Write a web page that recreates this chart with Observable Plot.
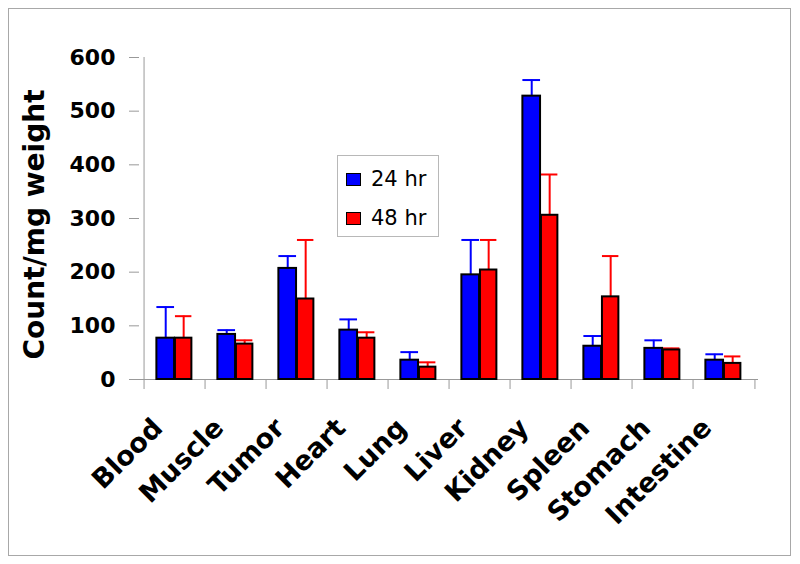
<!DOCTYPE html>
<html>
<head>
<meta charset="utf-8">
<script src="https://cdn.jsdelivr.net/npm/d3@7"></script>
<script src="https://cdn.jsdelivr.net/npm/@observablehq/plot@0.6"></script>
<style>
  html, body { margin: 0; padding: 0; background: #fff; }
  #wrap { position: relative; width: 800px; height: 564px; }
  #border { position: absolute; left: 8px; top: 8px; width: 783px; height: 548px; border: 1px solid #a8a8a8; box-sizing: border-box; }
  #chart { position: absolute; left: 0; top: 0; }
  #legend { position: absolute; left: 337px; top: 155px; width: 102px; height: 82px; border: 1px solid #b8b8b8; box-sizing: border-box; background: #fff;
            font-family: "DejaVu Sans", sans-serif; font-size: 21px; color: #000; }
  .item { position: absolute; left: 8px; display: flex; align-items: center; }
  .sw { width: 15px; height: 13px; border: 1px solid #000; box-sizing: border-box; margin-right: 10px; }
</style>
</head>
<body>
<div id="wrap">
  <div id="border"></div>
  <div id="chart"></div>
  <div id="legend"></div>
</div>
<script>
const organs = ["Blood", "Muscle", "Tumor", "Heart", "Lung", "Liver", "Kidney", "Spleen", "Stomach", "Intestine"];
const series = ["24 hr", "48 hr"];
const colors = ["#0000ff", "#ff0000"];
const mean24 = [77, 84, 207, 92, 36, 195, 528, 62, 58, 36];
const sd24   = [58, 8, 23, 20, 15, 65, 30, 19, 15, 11];
const mean48 = [77, 66, 150, 77, 23, 204, 306, 154, 55, 30];
const sd48   = [41, 7, 110, 11, 9, 56, 76, 76, 3, 13];
const yTicks = [0, 100, 200, 300, 400, 500, 600];
const yTitle = "Count/mg weight";

const width = 800, height = 564;
const mL = 139, mR = 42, mT = 57, mB = 185;
const step = (width - mL - mR) / organs.length;

const d24 = organs.map((o, i) => ({organ: o, v: mean24[i], top: mean24[i] + sd24[i]}));
const d48 = organs.map((o, i) => ({organ: o, v: mean48[i], top: mean48[i] + sd48[i]}));

// bar positions within each category band (fractions of the band)
const b24 = {insetLeft: 0.2 * step, insetRight: 0.5 * step};
const b48 = {insetLeft: 0.5 * step, insetRight: 0.22 * step};
const c24 = (0.35 - 0.5) * step;
const c48 = (0.64 - 0.5) * step;

const axisGray = "#999";

const plot = Plot.plot({
  width, height,
  marginLeft: mL, marginRight: mR, marginTop: mT, marginBottom: mB,
  style: {fontFamily: "DejaVu Sans, sans-serif", fontWeight: "bold", color: "#000", background: "transparent"},
  x: {type: "band", domain: organs, padding: 0},
  y: {domain: [0, 600]},
  marks: [
    // axes lines
    Plot.ruleY([0], {stroke: axisGray, strokeWidth: 1}),
    Plot.ruleX([organs[0]], {y1: 0, y2: 600, dx: -step / 2, stroke: axisGray}),
    // category boundary ticks
    Plot.ruleX(organs, {x: d => d, y1: 0, y2: 0, insetBottom: -10, dx: -step / 2, stroke: axisGray}),
    Plot.ruleX([organs[organs.length - 1]], {y1: 0, y2: 0, insetBottom: -10, dx: step / 2, stroke: axisGray}),
    Plot.axisY({ticks: yTicks, tickSize: 10, tickPadding: 14, fontSize: 22, stroke: axisGray, label: null}),
    Plot.text([yTitle], {text: d => d, frameAnchor: "left", textAnchor: "middle", rotate: -90, dx: -104, dy: 6, fontSize: 28, fontWeight: "bold"}),
    Plot.axisX({tickSize: 0, tickPadding: 44, tickRotate: -45, fontSize: 27, dx: -17, label: null}),
    // error bars
    Plot.ruleX(d24, {x: "organ", y1: "v", y2: "top", dx: c24, stroke: colors[0], strokeWidth: 2}),
    Plot.ruleX(d48, {x: "organ", y1: "v", y2: "top", dx: c48, stroke: colors[1], strokeWidth: 2}),
    Plot.tickY(d24, {x: "organ", y: "top", ...b24, stroke: colors[0], strokeWidth: 2}),
    Plot.tickY(d48, {x: "organ", y: "top", ...b48, stroke: colors[1], strokeWidth: 2}),
    // bars
    Plot.barY(d24, {x: "organ", y: "v", ...b24, fill: colors[0], stroke: "#000", strokeWidth: 2}),
    Plot.barY(d48, {x: "organ", y: "v", ...b48, fill: colors[1], stroke: "#000", strokeWidth: 2})
  ]
});
document.getElementById("chart").appendChild(plot);

const legend = document.getElementById("legend");
series.forEach((s, i) => {
  const item = document.createElement("div");
  item.className = "item";
  item.style.top = (i === 0 ? 11 : 50) + "px";
  const sw = document.createElement("div");
  sw.className = "sw";
  sw.style.background = colors[i];
  const t = document.createElement("span");
  t.textContent = s;
  item.appendChild(sw);
  item.appendChild(t);
  legend.appendChild(item);
});
</script>
</body>
</html>
